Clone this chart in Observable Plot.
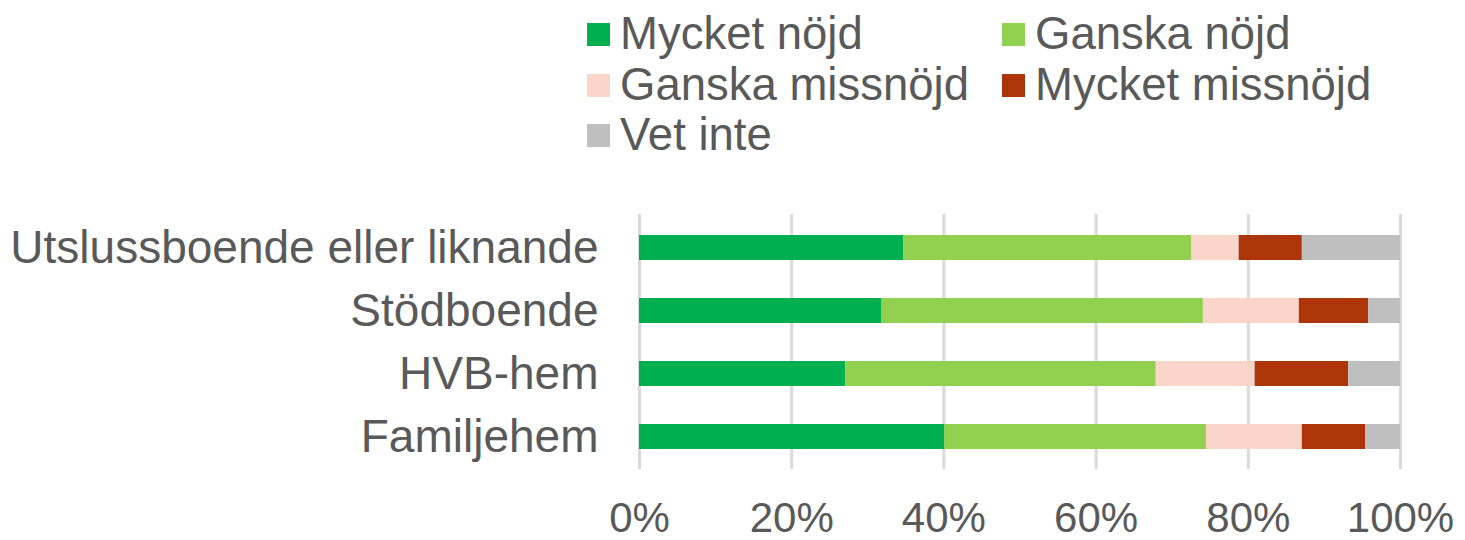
<!DOCTYPE html>
<html>
<head>
<meta charset="utf-8">
<script src="https://cdn.jsdelivr.net/npm/d3@7"></script>
<script src="https://cdn.jsdelivr.net/npm/@observablehq/plot@0.6"></script>
<style>
  html, body { margin: 0; padding: 0; background: #fff; }
  body { width: 1465px; height: 540px; overflow: hidden; font-family: "Liberation Sans", Arial, sans-serif; }
  #legend { position: relative; width: 1465px; height: 180px; }
  .item { position: absolute; display: flex; align-items: center; font-size: 45.5px; color: #595959; line-height: 1; white-space: nowrap; }
  .sw { width: 23px; height: 23px; margin-right: 10px; }
</style>
</head>
<body>
<div id="legend"></div>
<div id="chart"></div>
<script>
const categories = ["Utslussboende eller liknande", "Stödboende", "HVB-hem", "Familjehem"];
const seriesNames = ["Mycket nöjd", "Ganska nöjd", "Ganska missnöjd", "Mycket missnöjd", "Vet inte"];
const seriesColors = ["#00B050", "#92D050", "#FAD6CA", "#AE3409", "#BFBFBF"];
const mycketNojd     = [34.7, 31.8, 27.1, 40.1];
const ganskaNojd     = [37.9, 42.3, 40.8, 34.4];
const ganskaMissnojd = [6.2, 12.6, 13.0, 12.6];
const mycketMissnojd = [8.3, 9.1, 12.3, 8.3];
const vetInte        = [12.9, 4.2, 6.8, 4.6];
const xTicks = [0, 20, 40, 60, 80, 100];

const seriesValues = [mycketNojd, ganskaNojd, ganskaMissnojd, mycketMissnojd, vetInte];
const data = [];
categories.forEach((c, i) => {
  seriesNames.forEach((s, j) => data.push({cat: c, series: s, value: seriesValues[j][i]}));
});

// Legend (HTML, above the SVG)
const legend = document.getElementById("legend");
const pos = [[587, 34], [1002, 34], [587, 85], [1002, 85], [587, 135]];
seriesNames.forEach((s, j) => {
  const it = document.createElement("div");
  it.className = "item";
  it.style.left = pos[j][0] + "px";
  it.style.top = (pos[j][1] - 23) + "px";
  it.style.height = "46px";
  const sw = document.createElement("div");
  sw.className = "sw";
  sw.style.background = seriesColors[j];
  const tx = document.createElement("span");
  tx.textContent = s;
  it.appendChild(sw); it.appendChild(tx);
  legend.appendChild(it);
});

const chart = Plot.plot({
  width: 1465,
  height: 360,
  marginLeft: 639,
  marginRight: 65,
  marginTop: 34,
  marginBottom: 71,
  style: {fontFamily: "'Liberation Sans', Arial, sans-serif", color: "#595959", background: "#fff"},
  x: {domain: [0, 100], ticks: xTicks},
  y: {domain: categories, paddingInner: 0.61, paddingOuter: 0.305},
  color: {domain: seriesNames, range: seriesColors},
  marks: [
    Plot.ruleX(xTicks, {stroke: "#D9D9D9", strokeWidth: 3}),
    Plot.barX(data, {x: "value", y: "cat", fill: "series", order: seriesNames}),
    Plot.axisX({ticks: xTicks, tickSize: 0, tickPadding: 33, tickFormat: d => d + "%", fontSize: 42, label: null, fill: "#595959"}),
    Plot.axisY({tickSize: 0, tickPadding: 41, fontSize: 46, label: null, fill: "#595959"})
  ]
});
document.getElementById("chart").appendChild(chart);
</script>
</body>
</html>
